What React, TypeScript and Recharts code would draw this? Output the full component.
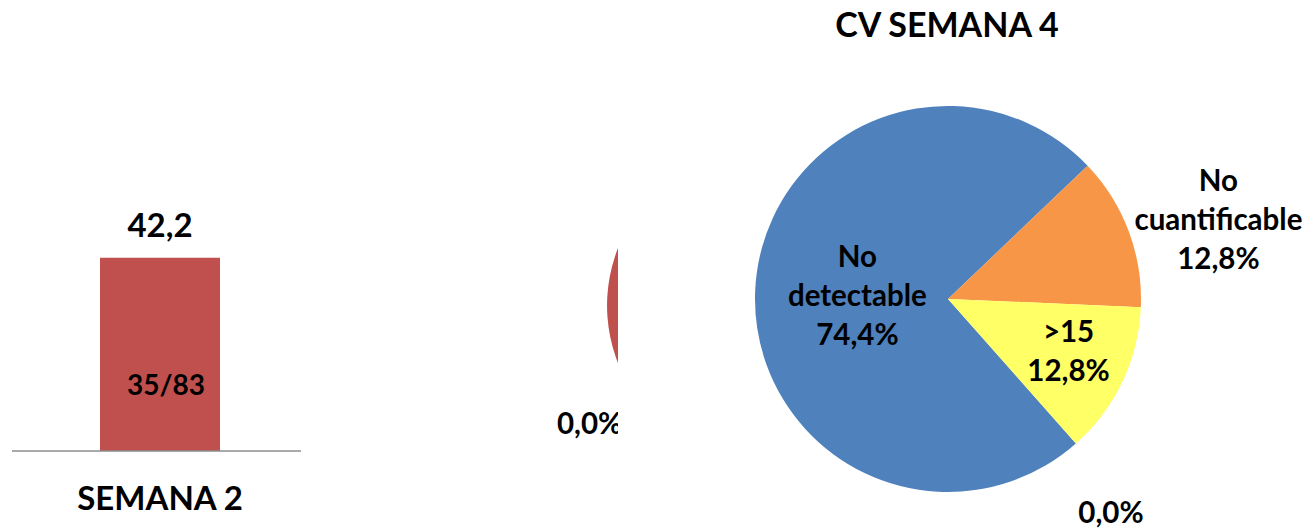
import React from 'react';
import { BarChart, Bar, XAxis, YAxis, LabelList, PieChart, Pie, Cell } from 'recharts';

// ---------- data ----------
const barCategories = ['SEMANA 2'];
const barValues = [42.2];
const barRatioLabels = ['35/83'];

const midPieNames = ['Detectable', 'Otro'];
const midPieValues = [100, 0];

const pieTitle = 'CV SEMANA 4';
const pieNames = ['No detectable', 'No cuantificable', '>15', '<15'];
const pieValues = [74.4, 12.8, 12.8, 0.0];
const pieNameLines = [['No', 'detectable'], ['No', 'cuantificable'], ['>15'], []];

// ---------- styles ----------
const FONT = 'Lato, "Open Sans", sans-serif';
const RED = '#C0504D';
const pieColors = ['#4F81BD', '#F79646', '#FFFF66', '#C0504D'];
const midPieColors = ['#C0504D', '#4F81BD'];
const pieLabelPlacement = [
  { r: 0.47, shift: 0 },
  { r: 1.46, shift: -4.3 },
  { r: 0.68, shift: 2.2 },
  { r: 1.39, shift: -4.1 },
];
const midLabelPlacement = [{ r: 0, shift: 0 }, { r: 1.345, shift: 0.3 }];

const RADIAN = Math.PI / 180;
const fmt = (v: number) => v.toFixed(1).replace('.', ',');

const barData = barCategories.map((c, i) => ({ category: c, value: barValues[i], ratio: barRatioLabels[i] }));
const pieData = pieNames.map((n, i) => ({ name: n, value: pieValues[i] }));
const midPieData = midPieNames.map((n, i) => ({ name: n, value: midPieValues[i] }));

const BarTick = (props: any) => {
  const { x, y, payload } = props;
  return (
    <text x={x} y={y + 51} textAnchor="middle" fontFamily={FONT} fontWeight={700} fontSize={33} fill="#000">
      {payload.value}
    </text>
  );
};

const TopLabel = (props: any) => {
  const vb = props.viewBox && props.viewBox.width !== undefined ? props.viewBox : props;
  const { x, y, width } = vb;
  return (
    <text x={x + width / 2} y={y - 21} textAnchor="middle" fontFamily={FONT} fontWeight={700} fontSize={33} fill="#000">
      {fmt(Number(props.value))}
    </text>
  );
};

const InsideLabel = (props: any) => {
  const vb = props.viewBox && props.viewBox.width !== undefined ? props.viewBox : props;
  const { x, y, width, height } = vb;
  return (
    <text x={x + width / 2 + 6} y={y + height - 56} textAnchor="middle" fontFamily={FONT} fontWeight={700} fontSize={28} fill="#000">
      {props.value}
    </text>
  );
};

const makePieLabel = (placement: { r: number; shift: number }[], nameLines: string[][], fontSize: number, lineH: number) =>
  (props: any) => {
    const { cx, cy, midAngle, outerRadius, index, value } = props;
    const pl = placement[index];
    if (!pl || pl.r === 0) return null;
    const ang = (midAngle + pl.shift) * RADIAN;
    const x = cx + outerRadius * pl.r * Math.cos(-ang);
    const y = cy + outerRadius * pl.r * Math.sin(-ang);
    const lines = [...(nameLines[index] || []), `${fmt(Number(value))}%`];
    const firstBaseline = y - ((lines.length - 1) / 2) * lineH + fontSize * 0.36;
    return (
      <text key={`l-${index}`} textAnchor="middle" fontFamily={FONT} fontWeight={700} fontSize={fontSize} fill="#000">
        {lines.map((t, i) => (
          <tspan key={i} x={x} y={firstBaseline + i * lineH}>{t}</tspan>
        ))}
      </text>
    );
  };

const pieLabel = makePieLabel(pieLabelPlacement, pieNameLines, 29.5, 39);
const midLabel = makePieLabel(midLabelPlacement, [[], []], 29.5, 39);

export default function App() {
  return (
    <div style={{ position: 'absolute', left: 0, top: 0, width: 1313, height: 528, background: '#fff', overflow: 'hidden' }}>
      {/* left bar chart */}
      <div style={{ position: 'absolute', left: 0, top: 0 }}>
        <BarChart width={320} height={528} data={barData} margin={{ top: 222, right: 19, bottom: 0, left: 12 }}>
          <XAxis
            dataKey="category"
            height={77}
            axisLine={{ stroke: '#8c8c8c', strokeWidth: 1.5 }}
            tickLine={false}
            tick={<BarTick />}
            padding={{ left: 7, right: 0 }}
            interval={0}
          />
          <YAxis hide domain={[0, 50]} />
          <Bar dataKey="value" fill={RED} barSize={120} isAnimationActive={false}>
            <LabelList dataKey="value" content={<TopLabel />} />
            <LabelList dataKey="ratio" content={<InsideLabel />} />
          </Bar>
        </BarChart>
      </div>

      {/* middle pie, clipped */}
      <div style={{ position: 'absolute', left: 480, top: 0, width: 138, height: 528, overflow: 'hidden' }}>
        <PieChart width={560} height={528} margin={{ top: 0, right: 0, bottom: 0, left: 0 }}>
          <Pie
            data={midPieData}
            dataKey="value"
            cx={284}
            cy={307}
            outerRadius={156}
            startAngle={213.5}
            endAngle={-146.5}
            stroke="none"
            label={midLabel}
            labelLine={false}
            isAnimationActive={false}
          >
            {midPieData.map((d, i) => (
              <Cell key={d.name} fill={midPieColors[i]} />
            ))}
          </Pie>
        </PieChart>
      </div>

      {/* right pie */}
      <div style={{ position: 'absolute', left: 620, top: 0 }}>
        <PieChart width={693} height={528} margin={{ top: 0, right: 0, bottom: 0, left: 0 }}>
          <Pie
            data={pieData}
            dataKey="value"
            cx={328}
            cy={299}
            outerRadius={193}
            startAngle={311.5}
            endAngle={-48.5}
            stroke="none"
            label={pieLabel}
            labelLine={false}
            isAnimationActive={false}
          >
            {pieData.map((d, i) => (
              <Cell key={d.name} fill={pieColors[i]} />
            ))}
          </Pie>
        </PieChart>
      </div>

      {/* title */}
      <svg style={{ position: 'absolute', left: 620, top: 0 }} width={693} height={60}>
        <text x={327} y={37} textAnchor="middle" fontFamily={FONT} fontWeight={700} fontSize={34} fill="#000">
          {pieTitle}
        </text>
      </svg>
    </div>
  );
}
